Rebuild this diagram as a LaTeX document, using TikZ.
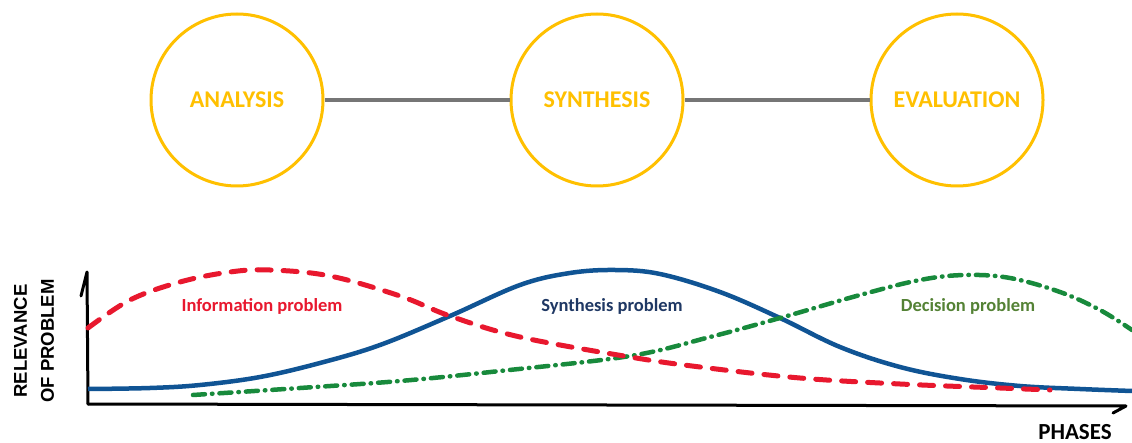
\documentclass[tikz,border=0pt]{standalone}
\usepackage{fontspec}
\setmainfont{Carlito}
\newfontfamily\arialf{Liberation Sans}
\definecolor{cyel}{RGB}{255,192,0}
\definecolor{cgray}{RGB}{118,118,118}
\definecolor{cred}{RGB}{232,24,46}
\definecolor{cblue}{RGB}{16,84,148}
\definecolor{cnavy}{RGB}{31,56,100}
\definecolor{cgreen}{RGB}{24,138,60}
\definecolor{cgtext}{RGB}{84,130,53}
\tikzset{
  phase/.style={circle, draw=cyel, line width=3pt, minimum size=172pt, inner sep=0pt,
    text=cyel, font=\fontsize{24}{28}\selectfont\bfseries},
  link/.style={draw=cgray, line width=3.5pt},
  axisline/.style={draw=black, line width=3pt, line cap=round, line join=round},
  redcurve/.style={draw=cred, line width=5pt, line cap=round, dash pattern=on 14pt off 12pt},
  bluecurve/.style={draw=cblue, line width=4.5pt},
  greencurve/.style={draw=cgreen, line width=4.5pt, line cap=round, dash pattern=on 12pt off 7pt on 0.5pt off 7pt},
  curvelabel/.style={font=\fontsize{18.5}{21}\selectfont\bfseries},
}
\begin{document}
\begin{tikzpicture}[x=1pt,y=-1pt]
\useasboundingbox (0,0) rectangle (1132,443);
\fill[white] (0,0) rectangle (1132,443);
% phases
\node[phase] (ana) at (237,100) {ANALYSIS};
\node[phase] (syn) at (597,100) {SYNTHESIS};
\node[phase] (eva) at (957,100) {EVALUATION};
\draw[link] (ana.east) -- (syn.west);
\draw[link] (syn.east) -- (eva.west);
% axes
\coordinate (orig) at (88,404);
\coordinate (ytip) at (87,272);
\coordinate (yhook) at (81,296);
\coordinate (xtip) at (1126,406);
\coordinate (xhook) at (1113,413);
\draw[axisline] (orig) -- (ytip) -- (yhook);
\draw[axisline] (orig) -- (xtip) -- (xhook);
% curves
\draw[bluecurve] plot[smooth, tension=0.6] coordinates {(88,389) (150,388) (200,385) (260,377) (320,363) (380,345) (450,316) (520,285) (570,273) (615,270) (660,274) (720,292) (780,318) (840,347) (900,367) (960,379) (1020,386) (1080,389) (1132,391)};
\draw[greencurve] plot[smooth, tension=0.6] coordinates {(193,395) (300,388) (400,381) (500,371) (630,356) (710,337) (780,318) (860,295) (920,280) (965,275) (1010,278) (1060,292) (1100,310) (1132,330)};
\draw[redcurve] plot[smooth, tension=0.6] coordinates {(88,328) (130,300) (180,282) (230,272) (270,270) (330,276) (400,296) (450,316) (520,337) (630,357) (700,367) (800,378) (900,384) (1000,388) (1050,390)};
% labels
\node[curvelabel, text=cred] (lred) at (262,306) {Information problem};
\node[curvelabel, text=cnavy] (lblue) at (612,306) {Synthesis problem};
\node[curvelabel, text=cgtext] (lgreen) at (968,306) {Decision problem};
\node[rotate=90, align=center, font=\arialf\fontsize{18.5}{27}\selectfont\bfseries] (ylab) at (34,341) {RELEVANCE\\OF PROBLEM};
\node[font=\fontsize{23}{26}\selectfont\bfseries] (xlab) at (1075,432) {PHASES};
\end{tikzpicture}
\end{document}
